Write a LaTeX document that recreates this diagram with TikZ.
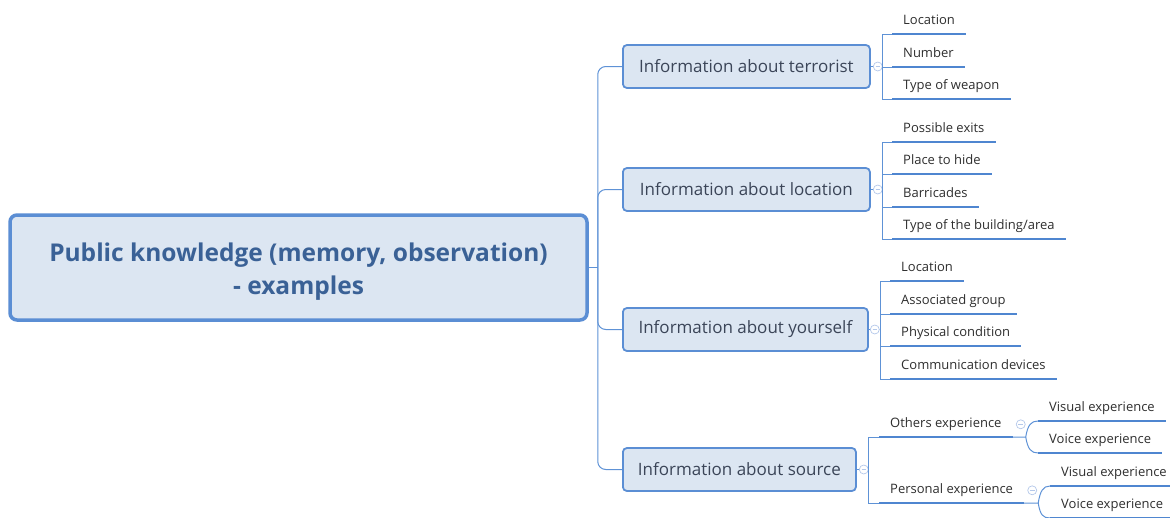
\documentclass[tikz,border=0pt]{standalone}
\usepackage{fontspec}
\setmainfont{Open Sans}
\usetikzlibrary{positioning}
\definecolor{boxfill}{HTML}{DCE6F2}
\definecolor{boxline}{HTML}{5B8ED4}
\definecolor{linkc}{HTML}{5E92D6}
\definecolor{ulinec}{HTML}{4F86D0}
\definecolor{foldc}{HTML}{B4C8EA}
\definecolor{roottext}{HTML}{3A6196}
\definecolor{topictext}{HTML}{3B4558}
\definecolor{leaftext}{HTML}{2E2E2E}

\begin{document}
\begin{tikzpicture} [x=1pt, y=-1pt,
  root/.style ={rectangle, rounded corners=7pt, draw=boxline, line width=3.5pt, fill=boxfill,
    minimum width=577pt, minimum height=105pt, align=center, text=roottext,
    font=\fontsize{24.5}{33}\selectfont\bfseries},
  topic/.style ={rectangle, rounded corners=4pt, draw=boxline, line width=1.8pt, fill=boxfill,
    minimum height=43pt, anchor=west, text=topictext, font=\fontsize{17}{20}\selectfont},
  leaf/.style ={anchor=south west, inner xsep=11pt, inner ysep=6pt, text height=9.5pt, text depth=3.5pt,
    text=leaftext, font=\fontsize{13}{15}\selectfont},
  fold/.style ={circle, draw=foldc, line width=0.7pt, fill=white, minimum size=9pt, inner sep=0pt,
    path picture={\draw[foldc, line width=0.7pt] ([xshift=-2.3pt]path picture bounding box.center)
      -- ([xshift=2.3pt]path picture bounding box.center);}},
  link/.style ={draw=linkc, line width=1pt},
  uline/.style ={draw=ulinec, line width=2.8pt}]
\useasboundingbox (0,0) rectangle (1170,517);

% central topic
\node[root] (R) at (298.5,267.5) {\rule{0pt}{26.5pt}Public knowledge (memory, observation)\\- examples};

% main topics
\node[topic, minimum width=247pt] (B1) at (622,66.5) {Information about terrorist};
\node[topic, minimum width=247pt] (B2) at (622,189.5) {Information about location};
\node[topic, minimum width=245pt] (B3) at (622,329.5) {Information about yourself};
\node[topic, minimum width=233pt] (B4) at (622,469.5) {Information about source};

\node[fold] (F1) at ([xshift=7pt]B1.east) {};
\node[fold] (F2) at ([xshift=7pt]B2.east) {};
\node[fold] (F3) at ([xshift=6pt]B3.east) {};
\node[fold] (F4) at ([xshift=7pt]B4.east) {};

\draw[link] (R.east) -- ++(9,0) coordinate (T);
\draw[link, rounded corners=8pt] (T) |- (B1.west);
\draw[link, rounded corners=8pt] (T) |- (B2.west);
\draw[link, rounded corners=8pt] (T) |- (B3.west);
\draw[link, rounded corners=8pt] (T) |- (B4.west);
\draw[link] (B1.east) -- (F1.west);
\draw[link] (B2.east) -- (F2.west);
\draw[link] (B3.east) -- (F3.west);
\draw[link] (B4.east) -- (F4.west);

% about terrorist
\node[leaf] (L11) at (892,34) {Location};
\node[leaf] (L12) at (892,67) {Number};
\node[leaf] (L13) at (892,99) {Type of weapon};
% about location
\node[leaf] (L21) at (892,142) {Possible exits};
\node[leaf] (L22) at (892,174) {Place to hide};
\node[leaf] (L23) at (892,207) {Barricades};
\node[leaf] (L24) at (892,239) {Type of the building/area};
% about yourself
\node[leaf] (L31) at (890,281) {Location};
\node[leaf] (L32) at (890,314) {Associated group};
\node[leaf] (L33) at (890,346) {Physical condition};
\node[leaf] (L34) at (890,379) {Communication devices};
% about source
\node[leaf] (S1) at (879,437) {Others experience};
\node[leaf] (S2) at (879,503) {Personal experience};
\node[leaf] (S11) at (1038,421) {Visual experience};
\node[leaf] (S12) at (1038,453) {Voice experience};
\node[leaf] (S21) at (1050,486) {Visual experience};
\node[leaf] (S22) at (1050,518) {Voice experience};

\node[fold] (FS1) at ([xshift=8pt]S1.east) {};
\node[fold] (FS2) at ([xshift=8pt]S2.east) {};

\draw[link] (F1.east) -| ([xshift=-10pt]L11.south west) -- (L11.south west);
\draw[link] (F1.east) -| ([xshift=-10pt]L12.south west) -- (L12.south west);
\draw[link] (F1.east) -| ([xshift=-10pt]L13.south west) -- (L13.south west);
\draw[link] (F2.east) -| ([xshift=-10pt]L21.south west) -- (L21.south west);
\draw[link] (F2.east) -| ([xshift=-10pt]L22.south west) -- (L22.south west);
\draw[link] (F2.east) -| ([xshift=-10pt]L23.south west) -- (L23.south west);
\draw[link] (F2.east) -| ([xshift=-10pt]L24.south west) -- (L24.south west);
\draw[link] (F3.east) -| ([xshift=-10pt]L31.south west) -- (L31.south west);
\draw[link] (F3.east) -| ([xshift=-10pt]L32.south west) -- (L32.south west);
\draw[link] (F3.east) -| ([xshift=-10pt]L33.south west) -- (L33.south west);
\draw[link] (F3.east) -| ([xshift=-10pt]L34.south west) -- (L34.south west);
\draw[link] (F4.east) -| ([xshift=-11pt]S1.south west) -- (S1.south west);
\draw[link] (F4.east) -| ([xshift=-11pt]S2.south west) -- (S2.south west);

\draw[link] (S1.south east) -- ++(13,0) coordinate (J1) .. controls +(2,-12) and +(-7,0) .. (S11.south west);
\draw[link] (J1) .. controls +(2,12) and +(-7,0) .. (S12.south west);
\draw[link] (S2.south east) -- ++(14,0) coordinate (J2) .. controls +(2,-12) and +(-7,0) .. (S21.south west);
\draw[link] (J2) .. controls +(2,12) and +(-7,0) .. (S22.south west);

% underlines
\draw[uline] (L11.south west) -- (L11.south east);
\draw[uline] (L12.south west) -- (L12.south east);
\draw[uline] (L13.south west) -- (L13.south east);
\draw[uline] (L21.south west) -- (L21.south east);
\draw[uline] (L22.south west) -- (L22.south east);
\draw[uline] (L23.south west) -- (L23.south east);
\draw[uline] (L24.south west) -- (L24.south east);
\draw[uline] (L31.south west) -- (L31.south east);
\draw[uline] (L32.south west) -- (L32.south east);
\draw[uline] (L33.south west) -- (L33.south east);
\draw[uline] (L34.south west) -- (L34.south east);
\draw[uline] (S1.south west) -- (S1.south east);
\draw[uline] (S2.south west) -- (S2.south east);
\draw[uline] (S11.south west) -- (S11.south east);
\draw[uline] (S12.south west) -- (S12.south east);
\draw[uline] (S21.south west) -- (S21.south east);
\draw[uline] (S22.south west) -- (S22.south east);
\end{tikzpicture}
\end{document}
